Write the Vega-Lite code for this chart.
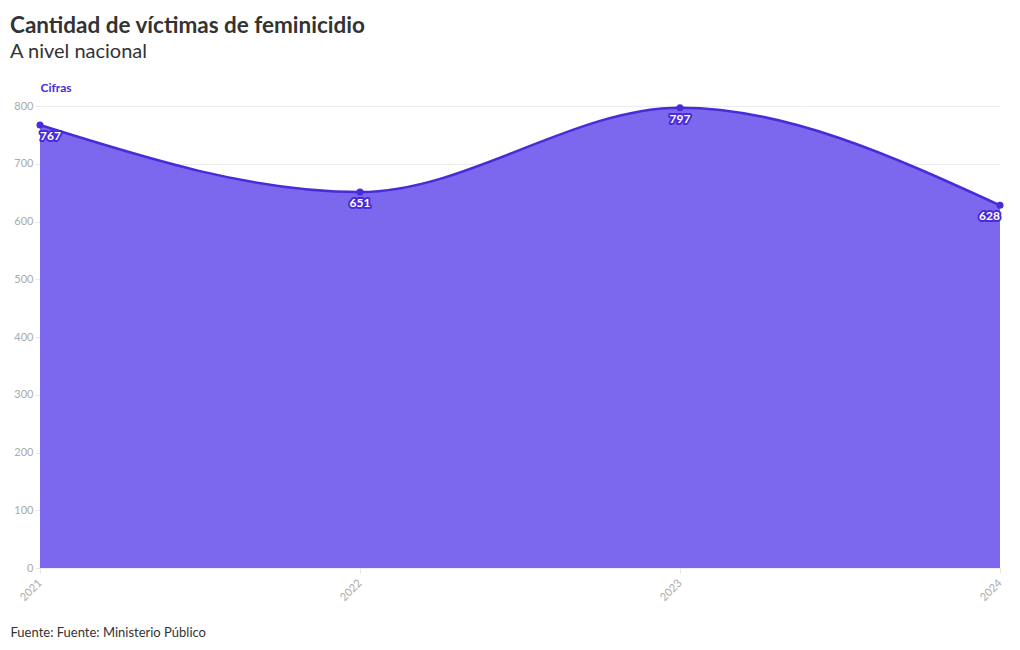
{
  "$schema": "https://vega.github.io/schema/vega-lite/v6.json",
  "width": 960,
  "height": 462,
  "padding": {"left": 10, "top": 14, "right": 20, "bottom": 10},
  "background": "white",
  "config": {
    "font": "Lato",
    "view": {"stroke": null}
  },
  "title": {
    "text": "Cantidad de víctimas de feminicidio",
    "subtitle": "A nivel nacional",
    "anchor": "start",
    "frame": "group",
    "offset": 19,
    "dx": -30,
    "font": "Lato",
    "fontSize": 22.5,
    "fontWeight": "bold",
    "color": "#333333",
    "subtitleFont": "Lato",
    "subtitleFontSize": 20,
    "subtitleColor": "#333333",
    "subtitlePadding": 5
  },
  "data": {
    "values": [
      {"year": "2021", "value": 767},
      {"year": "2022", "value": 651},
      {"year": "2023", "value": 797},
      {"year": "2024", "value": 628}
    ]
  },
  "encoding": {
    "x": {
      "field": "year",
      "type": "ordinal",
      "scale": {"type": "point", "padding": 0},
      "axis": {
        "title": "Fuente: Fuente: Ministerio Público",
        "titleAnchor": "start",
        "titleAlign": "left",
        "titleX": -30,
        "titleY": 58,
        "titleFont": "Lato",
        "titleFontSize": 13,
        "titleFontWeight": "normal",
        "titleColor": "#333333",
        "labelAngle": -45,
        "labelAlign": "right",
        "labelBaseline": "middle",
        "labelColor": "#aaaaaa",
        "labelFontSize": 11,
        "labelPadding": 8,
        "domain": false,
        "ticks": true,
        "tickColor": "#e6e6e6",
        "tickSize": 5,
        "grid": false
      }
    },
    "y": {
      "field": "value",
      "type": "quantitative",
      "scale": {"domain": [0, 800]},
      "axis": {
        "title": "Cifras",
        "titleAngle": 0,
        "titleAlign": "left",
        "titleAnchor": "end",
        "titleBaseline": "bottom",
        "titleX": 0,
        "titleY": -12,
        "titleColor": "#4a2bd8",
        "titleFontSize": 12,
        "titleFontWeight": "bold",
        "labelColor": "#aaaaaa",
        "labelFontSize": 11,
        "labelOverlap": false,
        "values": [0, 100, 200, 300, 400, 500, 600, 700, 800],
        "domain": false,
        "ticks": true,
        "tickColor": "#e6e6e6",
        "tickSize": 5,
        "gridColor": "#ececec",
        "labelPadding": 2
      }
    }
  },
  "layer": [
    {
      "mark": {"type": "area", "interpolate": "monotone", "color": "#7b68ee", "opacity": 1, "line": false}
    },
    {
      "mark": {"type": "line", "interpolate": "monotone", "color": "#4a2bd8", "strokeWidth": 2.5}
    },
    {
      "mark": {"type": "point", "filled": true, "color": "#4a2bd8", "size": 50, "opacity": 1}
    },
    {
      "transform": [{"filter": "datum.year == '2021'"}],
      "mark": {"type": "text", "align": "left", "baseline": "top", "dy": 6, "fontSize": 12, "fontWeight": "bold", "color": "#4a2bd8", "stroke": "#4a2bd8", "strokeWidth": 4, "strokeJoin": "round"},
      "encoding": {"text": {"field": "value", "type": "quantitative"}}
    },
    {
      "transform": [{"filter": "datum.year == '2021'"}],
      "mark": {"type": "text", "align": "left", "baseline": "top", "dy": 6, "fontSize": 12, "fontWeight": "bold", "color": "white"},
      "encoding": {"text": {"field": "value", "type": "quantitative"}}
    },
    {
      "transform": [{"filter": "datum.year == '2022' || datum.year == '2023'"}],
      "mark": {"type": "text", "align": "center", "baseline": "top", "dy": 6, "fontSize": 12, "fontWeight": "bold", "color": "#4a2bd8", "stroke": "#4a2bd8", "strokeWidth": 4, "strokeJoin": "round"},
      "encoding": {"text": {"field": "value", "type": "quantitative"}}
    },
    {
      "transform": [{"filter": "datum.year == '2022' || datum.year == '2023'"}],
      "mark": {"type": "text", "align": "center", "baseline": "top", "dy": 6, "fontSize": 12, "fontWeight": "bold", "color": "white"},
      "encoding": {"text": {"field": "value", "type": "quantitative"}}
    },
    {
      "transform": [{"filter": "datum.year == '2024'"}],
      "mark": {"type": "text", "align": "right", "baseline": "top", "dy": 6, "fontSize": 12, "fontWeight": "bold", "color": "#4a2bd8", "stroke": "#4a2bd8", "strokeWidth": 4, "strokeJoin": "round"},
      "encoding": {"text": {"field": "value", "type": "quantitative"}}
    },
    {
      "transform": [{"filter": "datum.year == '2024'"}],
      "mark": {"type": "text", "align": "right", "baseline": "top", "dy": 6, "fontSize": 12, "fontWeight": "bold", "color": "white"},
      "encoding": {"text": {"field": "value", "type": "quantitative"}}
    }
  ]
}
